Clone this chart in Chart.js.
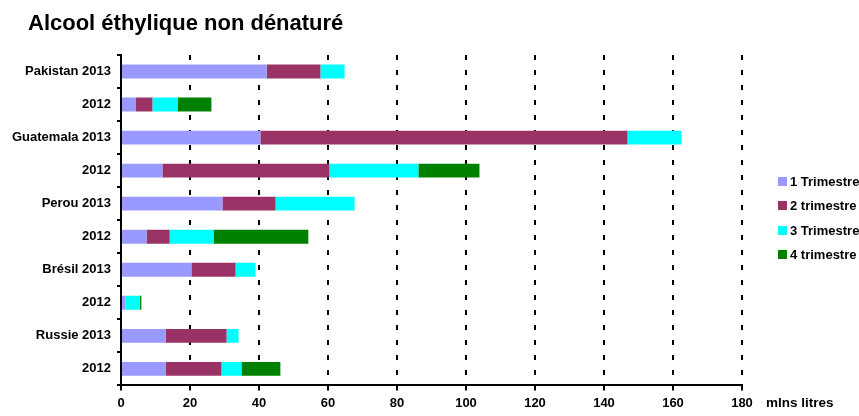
<!DOCTYPE html>
<html>
<head>
<meta charset="utf-8">
<script src="https://cdn.jsdelivr.net/npm/chart.js@4"></script>
<style>
  body { margin: 0; overflow: hidden; background: #fff; font-family: "Liberation Sans", Arial, sans-serif; }
  #wrap { position: relative; width: 859px; height: 416px; }
  #legend { position: absolute; left: 778px; top: 174px; font-weight: bold; font-size: 13px; white-space: nowrap; }
  #legend div { height: 24.3px; display: flex; align-items: flex-start; }
  #legend span.box { display: inline-block; width: 9px; height: 9px; margin-top: 3px; margin-right: 3px; }
</style>
</head>
<body>
<div id="wrap">
  <canvas id="myChart1"></canvas>
  <div id="legend"></div>
</div>
<script>
const labels = ['Pakistan 2013', '2012', 'Guatemala 2013', '2012', 'Perou 2013', '2012', 'Brésil 2013', '2012', 'Russie 2013', '2012'];
const q1 = [42.2, 4.2, 40.4, 12.0, 29.4, 7.4, 20.4, 1.3, 12.9, 12.9];
const q2 = [15.6, 4.9, 106.4, 48.4, 15.4, 6.7, 12.8, 0, 17.7, 16.2];
const q3 = [7.0, 7.3, 15.7, 25.8, 22.9, 12.7, 5.8, 4.1, 3.5, 5.8];
const q4 = [0, 9.8, 0, 17.7, 0, 27.5, 0, 0.5, 0, 11.3];
const seriesNames = ['1 Trimestre', '2 trimestre', '3 Trimestre', '4 trimestre'];
const colors = ['#9999FF', '#993366', '#00FFFF', '#008000'];

const font = "'Liberation Sans', Arial, sans-serif";

// title starts at x=28, unit text at the right end of the x axis
const extras = {
  id: 'extras',
  afterLayout(chart) {
    chart.titleBlock.left = 28;
  },
  afterDraw(chart) {
    const x = chart.scales.x;
    const ctx = chart.ctx;
    ctx.save();
    ctx.font = 'bold 13.5px ' + font;
    ctx.fillStyle = '#000';
    ctx.textBaseline = 'middle';
    ctx.fillText('mlns litres', x.right + 24, x.top + 18);
    ctx.restore();
  }
};

const chart = new Chart(document.getElementById('myChart1'), {
  type: 'bar',
  data: {
    labels: labels,
    datasets: [q1, q2, q3, q4].map((d, i) => ({
      label: seriesNames[i],
      data: d,
      backgroundColor: colors[i],
      borderWidth: 0,
      barPercentage: 0.42,
      categoryPercentage: 1
    }))
  },
  options: {
    indexAxis: 'y',
    responsive: true,
    maintainAspectRatio: false,
    animation: false,
    layout: { padding: { left: 0, right: 117, top: 0, bottom: 0 } },
    plugins: {
      legend: { display: false },
      tooltip: { enabled: false },
      title: {
        display: true,
        text: 'Alcool éthylique non dénaturé',
        align: 'start',
        color: '#000',
        font: { family: font, size: 22, weight: 'bold' },
        padding: { top: 11, bottom: 17.6 }
      }
    },
    scales: {
      x: {
        type: 'linear',
        stacked: true,
        min: 0,
        max: 180,
        ticks: { stepSize: 20, color: '#000', padding: 5, font: { family: font, size: 13, weight: 'bold' } },
        grid: { color: '#000', lineWidth: 2, tickLength: 5, tickBorderDash: [], tickColor: '#000' },
        border: { display: true, color: '#000', width: 2, dash: [5, 10] }
      },
      y: {
        stacked: true,
        afterFit(scale) { scale.width = 121; },
        ticks: { color: '#000', padding: 6, font: { family: font, size: 13, weight: 'bold' } },
        grid: { offset: true, drawOnChartArea: false, color: '#000', lineWidth: 2, tickLength: 4 },
        border: { display: true, color: '#000', width: 2 }
      }
    }
  },
  plugins: [extras]
});

const legend = document.getElementById('legend');
chart.data.datasets.forEach(ds => {
  const row = document.createElement('div');
  row.innerHTML = '<span class="box" style="background:' + ds.backgroundColor + '"></span>' + ds.label;
  legend.appendChild(row);
});
</script>
</body>
</html>
